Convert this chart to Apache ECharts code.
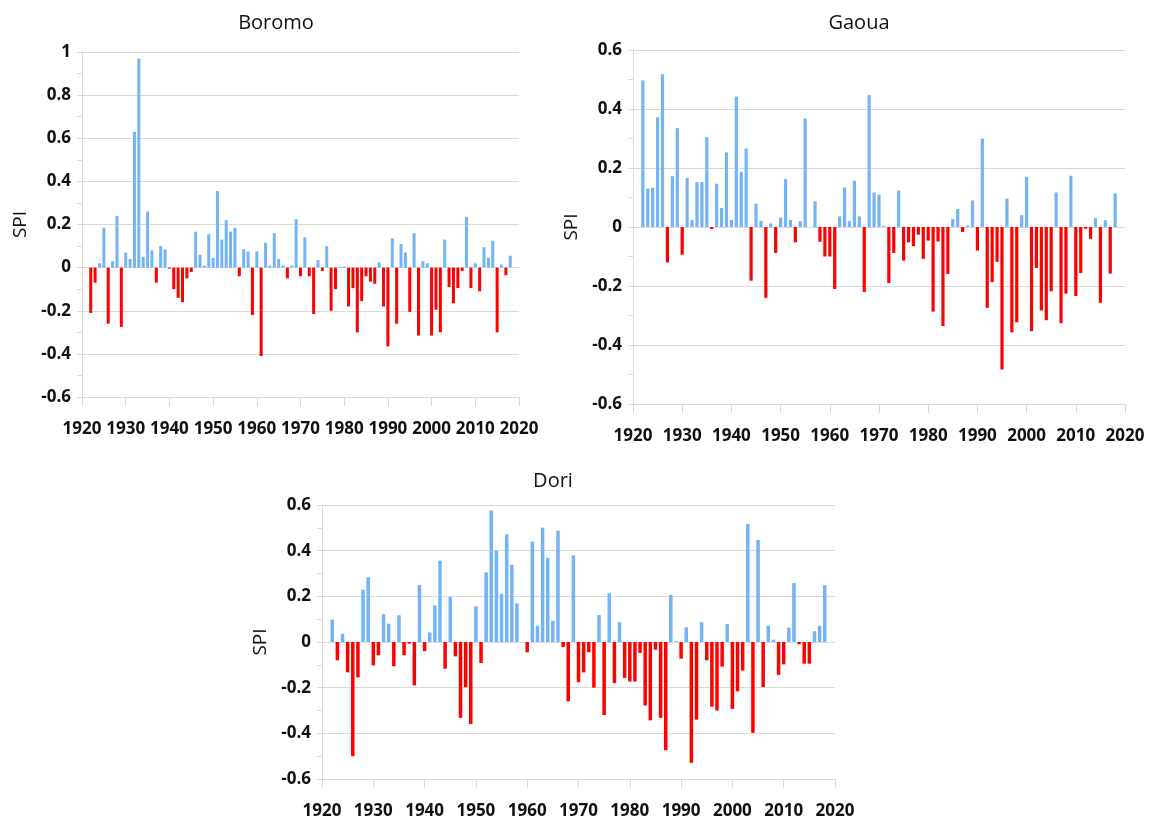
<!DOCTYPE html>
<html>
<head>
<meta charset="utf-8">
<title>SPI</title>
<script src="https://cdn.jsdelivr.net/npm/echarts@6/dist/echarts.min.js"></script>
<style>
  html, body { margin: 0; padding: 0; background: #ffffff; }
  #chart { width: 1151px; height: 825px; }
</style>
</head>
<body>
<div id="chart"></div>
<script>
// Annual SPI per station, one value per year starting at firstYear
const firstYear = 1922;
const stations = ['Boromo', 'Gaoua', 'Dori'];

const boromoSPI = [
  -0.21, -0.07, 0.02, 0.185, -0.26, 0.03, 0.24, -0.275,              // 1922-1929
  0.07, 0.04, 0.63, 0.97, 0.05, 0.26, 0.08, -0.07, 0.10, 0.085,       // 1930s
  -0.005, -0.10, -0.14, -0.16, -0.05, -0.02, 0.167, 0.06, 0.01, 0.155, // 1940s
  0.045, 0.355, 0.13, 0.22, 0.167, 0.185, -0.04, 0.085, 0.075, -0.22,  // 1950s
  0.075, -0.41, 0.115, 0.01, 0.16, 0.04, 0.01, -0.05, 0.01, 0.225,     // 1960s
  -0.04, 0.14, -0.04, -0.215, 0.035, -0.015, 0.10, -0.20, -0.10, 0.005, // 1970s
  0.005, -0.18, -0.095, -0.30, -0.155, -0.04, -0.065, -0.075, 0.025, -0.18, // 1980s
  -0.365, 0.135, -0.26, 0.11, 0.07, -0.205, 0.16, -0.315, 0.03, 0.02,  // 1990s
  -0.315, -0.195, -0.30, 0.13, -0.09, -0.165, -0.095, -0.015, 0.235, -0.095, // 2000s
  0.02, -0.11, 0.095, 0.045, 0.125, -0.30, 0.015, -0.035, 0.055        // 2010-2018
];

const gaouaSPI = [
  0.497, 0.13, 0.133, 0.372, 0.518, -0.12, 0.172, 0.335,
  -0.094, 0.166, 0.024, 0.152, 0.152, 0.305, -0.007, 0.147, 0.064, 0.253,
  0.024, 0.442, 0.187, 0.266, -0.182, 0.079, 0.021, -0.24, 0.012, -0.088,
  0.032, 0.163, 0.024, -0.052, 0.02, 0.368, 0, 0.087, -0.05, -0.1,
  -0.1, -0.21, 0.036, 0.134, 0.02, 0.157, 0.036, -0.22, 0.447, 0.117,
  0.11, 0.004, -0.19, -0.088, 0.124, -0.114, -0.052, -0.065, -0.026, -0.108,
  -0.046, -0.287, -0.049, -0.336, -0.159, 0.027, 0.061, -0.017, 0.005, 0.09,
  -0.08, 0.30, -0.274, -0.187, -0.118, -0.483, 0.096, -0.357, -0.323, 0.04,
  0.17, -0.353, -0.139, -0.283, -0.316, -0.218, 0.117, -0.326, -0.226, 0.174,
  -0.234, -0.156, -0.006, -0.04, 0.03, -0.257, 0.023, -0.158, 0.114
];

const doriSPI = [
  0.098, -0.08, 0.036, -0.133, -0.5, -0.155, 0.229, 0.284,
  -0.102, -0.058, 0.122, 0.08, -0.106, 0.117, -0.058, -0.007, -0.19, 0.25,
  -0.04, 0.042, 0.16, 0.356, -0.117, 0.197, -0.063, -0.332, -0.198, -0.359,
  0.156, -0.092, 0.305, 0.576, 0.4, 0.211, 0.472, 0.338, 0.169, 0,
  -0.045, 0.44, 0.071, 0.501, 0.369, 0.093, 0.488, -0.022, -0.26, 0.379,
  -0.176, -0.133, -0.045, -0.2, 0.118, -0.32, 0.214, -0.18, 0.087, -0.157,
  -0.173, -0.173, -0.048, -0.278, -0.343, -0.034, -0.332, -0.474, 0.206, 0.003,
  -0.073, 0.064, -0.529, -0.34, 0.087, -0.08, -0.283, -0.3, -0.108, 0.079,
  -0.293, -0.216, -0.125, 0.517, -0.398, 0.447, -0.197, 0.071, 0.01, -0.144,
  -0.098, 0.063, 0.258, -0.01, -0.095, -0.095, 0.047, 0.071, 0.249
];

// y-axis ranges per station
const yMin = [-0.6, -0.6, -0.6];
const yMax = [1, 0.6, 0.6];
const yStep = 0.2;
const xMin = 1920, xMax = 2020, xStep = 10;

const seriesValues = [boromoSPI, gaouaSPI, doriSPI];

// panel placement (px)
const panels = [
  { left: 82, top: 52, width: 437, height: 345, titleX: 271, titleY: 8, barWidth: 3 },
  { left: 633, top: 50, width: 492, height: 354, titleX: 854, titleY: 8, barWidth: 3.2 },
  { left: 322, top: 505, width: 513, height: 274, titleX: 548, titleY: 466, barWidth: 3.5 }
];

const FONT = '"Open Sans", "Noto Sans", sans-serif';
const POS = '#72b4f5';
const NEG = '#ff0000';
const GRID = '#d9d9d9';

const fmt = v => String(Math.round(v * 10) / 10);

const option = {
  backgroundColor: '#ffffff',
  animation: false,
  textStyle: { fontFamily: FONT },
  title: panels.map((p, i) => ({
    text: stations[i],
    left: p.titleX,
    top: p.titleY,
    textAlign: 'center',
    textStyle: { fontFamily: FONT, fontSize: 20, fontWeight: 'normal', color: '#111111' }
  })),
  grid: panels.map(p => ({ left: p.left, top: p.top, width: p.width, height: p.height })),
  xAxis: panels.map((p, i) => ({
    type: 'value',
    gridIndex: i,
    min: xMin,
    max: xMax,
    interval: xStep,
    axisLine: { show: true, onZero: false, lineStyle: { color: GRID, width: 1 } },
    axisTick: { show: true, length: 9, lineStyle: { color: GRID } },
    splitLine: { show: false },
    axisLabel: {
      margin: 24,
      fontFamily: FONT, fontSize: 17, fontWeight: 'bold', color: '#111111',
      formatter: v => String(v)
    }
  })),
  yAxis: panels.map((p, i) => ({
    type: 'value',
    gridIndex: i,
    min: yMin[i],
    max: yMax[i],
    interval: yStep,
    name: 'SPI',
    nameLocation: 'middle',
    nameGap: 52,
    nameTextStyle: { fontFamily: FONT, fontSize: 19, color: '#111111' },
    axisLine: { show: true, lineStyle: { color: GRID, width: 1 } },
    axisTick: { show: true, length: 5, lineStyle: { color: GRID } },
    minorTick: { show: true, splitNumber: 2, length: 5, lineStyle: { color: GRID } },
    splitLine: { show: true, lineStyle: { color: GRID, width: 1.2 } },
    axisLabel: {
      margin: 11,
      fontFamily: FONT, fontSize: 17, fontWeight: 'bold', color: '#111111',
      formatter: fmt
    }
  })),
  series: seriesValues.map((vals, i) => ({
    type: 'bar',
    xAxisIndex: i,
    yAxisIndex: i,
    barWidth: panels[i].barWidth,
    data: vals.map((v, k) => [firstYear + k, v]),
    itemStyle: {
      color: params => (params.value[1] >= 0 ? POS : NEG)
    }
  }))
};

const chart = echarts.init(document.getElementById('chart'), null, { renderer: 'canvas' });
chart.setOption(option);
</script>
</body>
</html>
